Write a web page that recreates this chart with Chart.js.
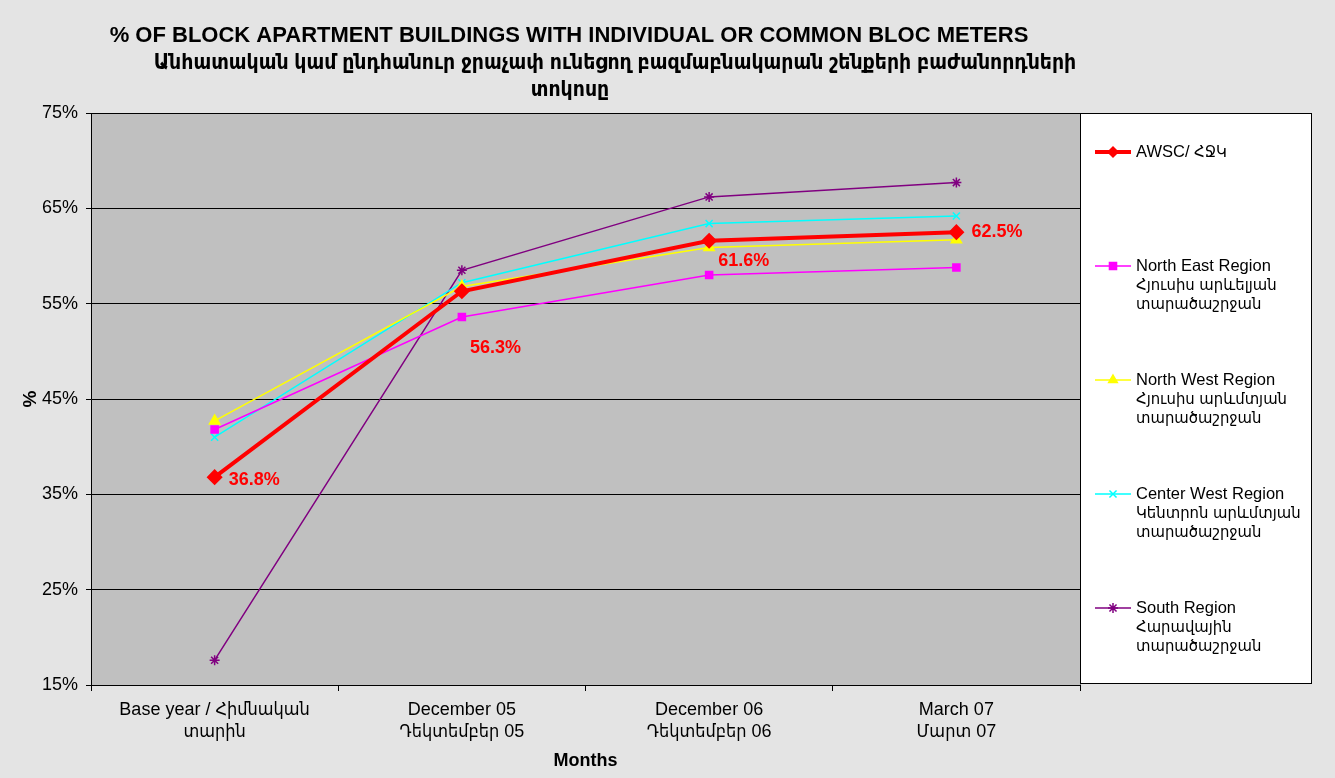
<!DOCTYPE html>
<html>
<head>
<meta charset="utf-8">
<script src="https://cdn.jsdelivr.net/npm/chart.js@4"></script>
<style>
  html, body { margin: 0; padding: 0; background: #e4e4e4; }
  #wrap { width: 1335px; height: 778px; }
</style>
</head>
<body>
<div id="wrap"><canvas id="blocChart" width="1335" height="778"></canvas></div>
<script>
// categories and values
const categories = [
    ['Base year / Հիմնական', 'տարին'],
    ['December 05', 'Դեկտեմբեր 05'],
    ['December 06', 'Դեկտեմբեր 06'],
    ['March 07', 'Մարտ 07']
];
const awscValues = [36.8, 56.3, 61.6, 62.5];
const northEastValues = [41.8, 53.6, 58.0, 58.8];
const northWestValues = [42.7, 56.8, 60.9, 61.7];
const centerWestValues = [41.0, 57.2, 63.4, 64.2];
const southValues = [17.6, 58.5, 66.2, 67.7];

const seriesLabels = [
    ['AWSC/ ՀՋԿ'],
    ['North East Region', 'Հյուսիս արևելյան', 'տարածաշրջան'],
    ['North West Region', 'Հյուսիս արևմտյան', 'տարածաշրջան'],
    ['Center West Region', 'Կենտրոն արևմտյան', 'տարածաշրջան'],
    ['South Region', 'Հարավային', 'տարածաշրջան']
];
const titleLines = [
    '% OF BLOCK APARTMENT BUILDINGS WITH INDIVIDUAL OR COMMON BLOC METERS',
    'Անհատական կամ ընդհանուր ջրաչափ ունեցող բազմաբնակարան շենքերի բաժանորդների',
    'տոկոսը'
];
const yTicks = { min: 15, max: 75, step: 10 };

const FONT = '"Liberation Sans", Arial, "DejaVu Sans Condensed", "DejaVu Sans", sans-serif';

// offsets for the AWSC value labels (px from the point)
const labelOffsets = [[14, 3], [8, 57], [9, 20], [15, 0]];

const backgroundPlugin = {
    id: 'background',
    beforeDraw(chart) {
        const ctx = chart.ctx;
        const a = chart.chartArea;
        ctx.save();
        ctx.fillStyle = '#e4e4e4';
        ctx.fillRect(0, 0, chart.width, chart.height);
        ctx.fillStyle = '#c0c0c0';
        ctx.fillRect(a.left, a.top, a.right - a.left, a.bottom - a.top);
        ctx.strokeStyle = '#808080';
        ctx.lineWidth = 1;
        ctx.strokeRect(a.left + 0.5, a.top + 0.5, a.right - a.left, a.bottom - a.top);
        ctx.restore();
    }
};

const titlePlugin = {
    id: 'customTitle',
    afterDraw(chart) {
        const ctx = chart.ctx;
        ctx.save();
        ctx.fillStyle = '#000';
        ctx.textBaseline = 'middle';
        ctx.textAlign = 'center';
        ctx.font = 'bold 22px ' + FONT;
        ctx.fillText(titleLines[0], 569, 36);
        ctx.font = 'bold 21px ' + FONT;
        ctx.fillText(titleLines[1], 615, 63);
        ctx.fillText(titleLines[2], 570, 90);
        ctx.restore();
    }
};

const legendPlugin = {
    id: 'boxLegend',
    afterDraw(chart) {
        const ctx = chart.ctx;
        const a = chart.chartArea;
        ctx.save();
        ctx.fillStyle = '#fff';
        ctx.fillRect(a.right, a.top, 231, 570);
        ctx.strokeStyle = '#000';
        ctx.lineWidth = 1;
        ctx.strokeRect(a.right + 0.5, a.top + 0.5, 231, 570);

        chart.data.datasets.forEach((ds, i) => {
            const y0 = 152 + i * 114;
            ctx.strokeStyle = ds.borderColor;
            ctx.lineWidth = ds.borderWidth;
            ctx.beginPath();
            ctx.moveTo(1095, y0);
            ctx.lineTo(1131, y0);
            ctx.stroke();
            ctx.fillStyle = ds.pointBackgroundColor;
            ctx.strokeStyle = ds.pointBorderColor;
            ctx.lineWidth = 1.5;
            Chart.helpers.drawPoint(ctx, {
                pointStyle: ds.pointStyle,
                radius: Math.min(ds.pointRadius, 5),
                rotation: 0,
                borderWidth: 1.5
            }, 1113, y0);

            ctx.fillStyle = '#000';
            ctx.font = '16.5px ' + FONT;
            ctx.textAlign = 'left';
            ctx.textBaseline = 'middle';
            seriesLabels[i].forEach((line, k) => {
                ctx.fillText(line, 1136, y0 + k * 19);
            });
        });
        ctx.restore();
    }
};

const valueLabelPlugin = {
    id: 'valueLabels',
    afterDatasetsDraw(chart) {
        const ctx = chart.ctx;
        const meta = chart.getDatasetMeta(0);
        ctx.save();
        ctx.fillStyle = '#ff0000';
        ctx.font = 'bold 18px ' + FONT;
        ctx.textAlign = 'left';
        ctx.textBaseline = 'middle';
        meta.data.forEach((pt, i) => {
            const off = labelOffsets[i];
            ctx.fillText(awscValues[i].toFixed(1) + '%', pt.x + off[0], pt.y + off[1]);
        });
        ctx.restore();
    }
};

function makeSeries(label, data, color, style, radius, width) {
    return {
        label: label,
        data: data,
        borderColor: color,
        backgroundColor: color,
        pointBackgroundColor: color,
        pointBorderColor: color,
        pointStyle: style,
        pointRadius: radius,
        pointHoverRadius: radius,
        pointBorderWidth: 1.5,
        borderWidth: width,
        tension: 0
    };
}

const chartCtx = document.getElementById('blocChart').getContext('2d');

new Chart(chartCtx, {
    type: 'line',
    data: {
        labels: categories,
        datasets: [
            makeSeries(seriesLabels[0].join(' '), awscValues, '#ff0000', 'rectRot', 7, 4),
            makeSeries(seriesLabels[1].join(' '), northEastValues, '#ff00ff', 'rect', 5, 1.5),
            makeSeries(seriesLabels[2].join(' '), northWestValues, '#ffff00', 'triangle', 6, 1.5),
            makeSeries(seriesLabels[3].join(' '), centerWestValues, '#00ffff', 'crossRot', 5, 1.5),
            makeSeries(seriesLabels[4].join(' '), southValues, '#800080', 'star', 5, 1.5)
        ]
    },
    options: {
        responsive: false,
        animation: false,
        devicePixelRatio: 1,
        layout: {
            padding: { top: 113, right: 255, left: 0, bottom: 0 }
        },
        plugins: {
            legend: { display: false },
            title: { display: false },
            tooltip: { enabled: false }
        },
        scales: {
            x: {
                type: 'category',
                offset: true,
                afterFit(scale) { scale.height = 93; },
                grid: {
                    offset: true,
                    drawOnChartArea: false,
                    drawTicks: true,
                    tickLength: 6,
                    color: '#000'
                },
                border: { color: '#000', width: 1 },
                ticks: {
                    color: '#000',
                    padding: 9,
                    maxRotation: 0,
                    autoSkip: false,
                    font: { family: FONT, size: 18, lineHeight: 1.17 }
                },
                title: {
                    display: true,
                    text: 'Months',
                    color: '#000',
                    font: { family: FONT, size: 18, weight: 'bold' },
                    padding: { top: 2, bottom: 6 }
                }
            },
            y: {
                min: yTicks.min,
                max: yTicks.max,
                afterFit(scale) { scale.width = 91; },
                grid: {
                    color: '#000',
                    lineWidth: 1,
                    drawTicks: true,
                    tickLength: 5
                },
                border: { color: '#000', width: 1 },
                ticks: {
                    stepSize: yTicks.step,
                    color: '#000',
                    padding: 8,
                    font: { family: FONT, size: 18 },
                    callback: function (v) { return v + '%'; }
                },
                title: {
                    display: true,
                    text: '%',
                    color: '#000',
                    font: { family: FONT, size: 19, weight: 'bold' },
                    padding: { top: 19, bottom: 0 }
                }
            }
        }
    },
    plugins: [backgroundPlugin, titlePlugin, legendPlugin, valueLabelPlugin]
});
</script>
</body>
</html>
